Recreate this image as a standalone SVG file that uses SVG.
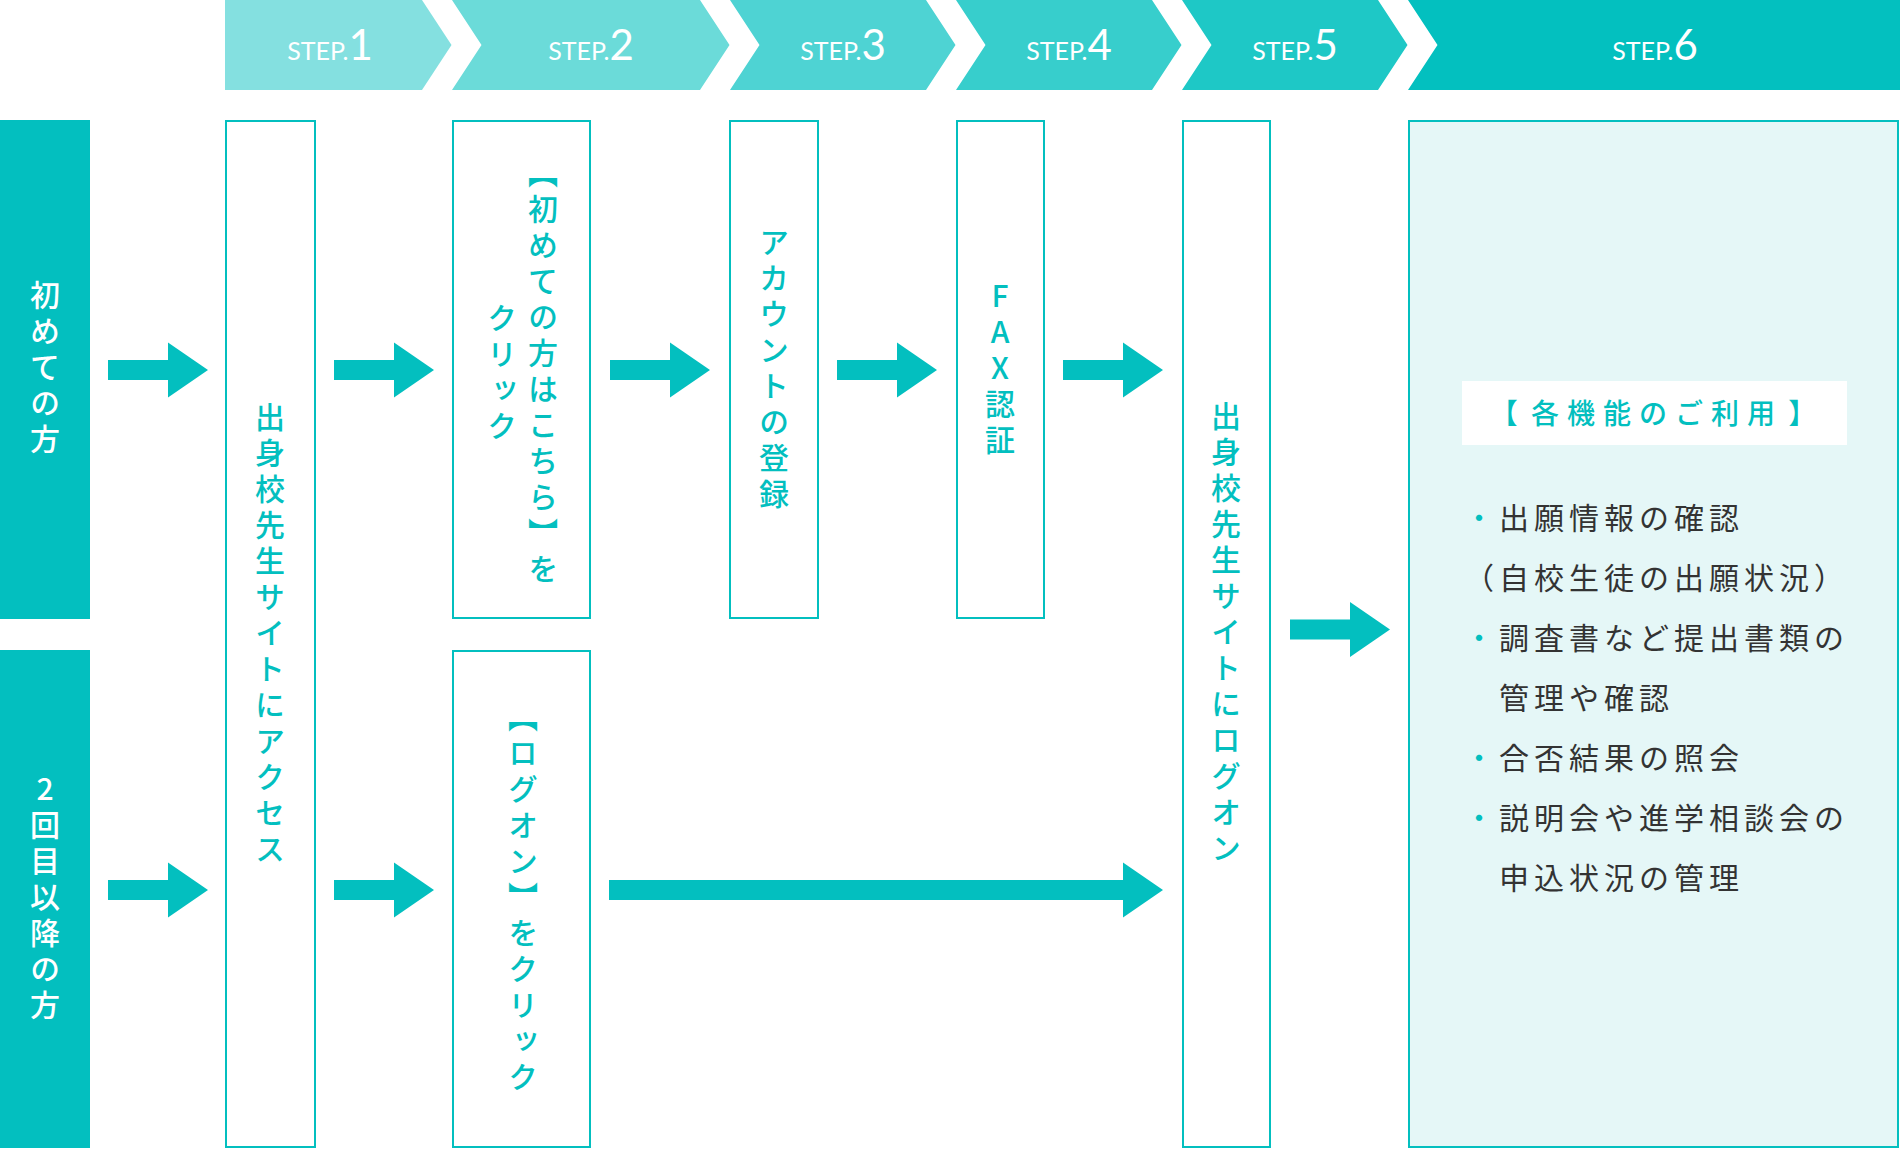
<svg xmlns="http://www.w3.org/2000/svg" xmlns:xlink="http://www.w3.org/1999/xlink" width="1900" height="1150" viewBox="0 0 1900 1150">
<defs>
<style>
.hd{font-family:Lato,"Noto Sans",sans-serif;fill:#fff;text-anchor:middle}
.s{font-size:25px}
.n{font-size:42px}
.box{fill:#fff;stroke:#03BFBF;stroke-width:2}
.lab{fill:#03BFBF}
.v{font-family:"Noto Sans CJK JP",sans-serif;font-size:30px;font-weight:500;writing-mode:vertical-rl;letter-spacing:6px;text-anchor:middle}
.vt{fill:#03BFBF}
.vw{fill:#fff}
.up{text-orientation:upright}
.li{font-family:"Noto Sans CJK JP",sans-serif;font-size:30px;fill:#333;letter-spacing:5px}
.bul{fill:#03BFBF}
.arr{fill:#03BFBF}
.ttl{font-family:"Noto Sans CJK JP",sans-serif;font-size:28px;font-weight:500;fill:#03BFBF;letter-spacing:8px;word-spacing:-9px;text-anchor:middle}
</style>
<path id="arr" d="M0,-10 H60 V-27.5 L100,0 L60,27.5 V10 H0 Z"/>
</defs>
<rect width="1900" height="1150" fill="#fff"/>
<g id="header">
<g id="step1-head"><path d="M225,0 H422 L451.5,45 L422,90 H225 Z" fill="#84E0E0"/><text class="hd" x="330" y="60"><tspan class="s">STEP.</tspan><tspan class="n">1</tspan></text></g>
<g id="step2-head"><path d="M452,0 H700 L729.5,45 L700,90 H452 L481.5,45 Z" fill="#6BDBD9"/><text class="hd" x="591" y="60"><tspan class="s">STEP.</tspan><tspan class="n">2</tspan></text></g>
<g id="step3-head"><path d="M730,0 H926 L955.5,45 L926,90 H730 L759.5,45 Z" fill="#4ED3D3"/><text class="hd" x="843" y="60"><tspan class="s">STEP.</tspan><tspan class="n">3</tspan></text></g>
<g id="step4-head"><path d="M956,0 H1152 L1181.5,45 L1152,90 H956 L985.5,45 Z" fill="#37CECC"/><text class="hd" x="1069" y="60"><tspan class="s">STEP.</tspan><tspan class="n">4</tspan></text></g>
<g id="step5-head"><path d="M1182,0 H1378 L1407.5,45 L1378,90 H1182 L1211.5,45 Z" fill="#1EC8C6"/><text class="hd" x="1295" y="60"><tspan class="s">STEP.</tspan><tspan class="n">5</tspan></text></g>
<g id="step6-head"><path d="M1408,0 H1900 V90 H1408 L1437.5,45 Z" fill="#03C0BF"/><text class="hd" x="1655" y="60"><tspan class="s">STEP.</tspan><tspan class="n">6</tspan></text></g>
</g>
<g id="row-first"><rect class="lab" x="0" y="120" width="90" height="499"/><text class="v vw" x="45" y="370">初めての方</text></g>
<g id="row-second"><rect class="lab" x="0" y="650" width="90" height="498"/><text class="v vw up" x="45" y="900">2回目以降の方</text></g>
<g id="step1"><rect class="box" x="226" y="121" width="89" height="1026"/><text class="v vt" x="270" y="636">出身校先生サイトにアクセス</text></g>
<g id="step2-first"><rect class="box" x="453" y="121" width="137" height="497"/><text class="v vt" x="543" y="374">【初めての方はこちら】を</text><text class="v vt" x="502" y="375">クリック</text></g>
<g id="step2-second"><rect class="box" x="453" y="651" width="137" height="496"/><text class="v vt" x="523" y="900">【ログオン】をクリック</text></g>
<g id="step3"><rect class="box" x="730" y="121" width="88" height="497"/><text class="v vt" x="774" y="371">アカウントの登録</text></g>
<g id="step4"><rect class="box" x="957" y="121" width="87" height="497"/><text class="v vt up" x="1000" y="371">FAX認証</text></g>
<g id="step5"><rect class="box" x="1183" y="121" width="87" height="1026"/><text class="v vt" x="1226" y="635">出身校先生サイトにログオン</text></g>
<g id="step6">
<rect x="1409" y="121" width="489" height="1026" fill="#E5F7F7" stroke="#03BFBF" stroke-width="2"/>
<rect x="1462" y="381" width="385" height="64" fill="#fff"/>
<text class="ttl" x="1657" y="424">【 各機能のご利用 】</text>
<text class="li" x="1464" y="529"><tspan class="bul">・</tspan>出願情報の確認</text>
<text class="li" x="1464" y="589">（自校生徒の出願状況）</text>
<text class="li" x="1464" y="649"><tspan class="bul">・</tspan>調査書など提出書類の</text>
<text class="li" x="1499" y="709">管理や確認</text>
<text class="li" x="1464" y="769"><tspan class="bul">・</tspan>合否結果の照会</text>
<text class="li" x="1464" y="829"><tspan class="bul">・</tspan>説明会や進学相談会の</text>
<text class="li" x="1499" y="889">申込状況の管理</text>
</g>
<g id="connectors" class="arr">
<use xlink:href="#arr" x="108" y="370"/>
<use xlink:href="#arr" x="334" y="370"/>
<use xlink:href="#arr" x="610" y="370"/>
<use xlink:href="#arr" x="837" y="370"/>
<use xlink:href="#arr" x="1063" y="370"/>
<use xlink:href="#arr" x="108" y="890"/>
<use xlink:href="#arr" x="334" y="890"/>
<path d="M609,880 H1123 V862.5 L1163,890 L1123,917.5 V900 H609 Z"/>
<use xlink:href="#arr" x="1290" y="629.5"/>
</g>
</svg>
